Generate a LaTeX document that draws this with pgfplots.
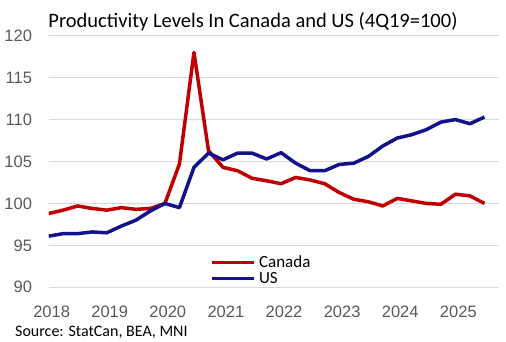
\documentclass[border=0pt]{standalone}
\usepackage{fontspec}
\setmainfont{Carlito}
\newfontfamily\tickfont{Liberation Sans}
\usepackage{pgfplots}
\pgfplotsset{compat=1.18}
\definecolor{canred}{HTML}{C00000}
\definecolor{usblue}{HTML}{12128C}
\definecolor{gridgray}{HTML}{D9D9D9}
\definecolor{ticklab}{HTML}{595959}
\begin{document}
\begin{tikzpicture}[x=1bp,y=1bp]
\useasboundingbox (0,0) rectangle (506,341);
\begin{axis}[
  at={(48.7bp,53.7bp)}, anchor=south west,
  scale only axis, width=450.3bp, height=251.6bp,
  xmin=0, xmax=31, ymin=90, ymax=120,
  axis line style={draw=none},
  major tick length=0pt,
  ytick={90,95,...,120},
  xtick={0.2,4.2,8.2,12.2,16.2,20.2,24.2,28.2},
  xticklabels={2018,2019,2020,2021,2022,2023,2024,2025},
  ymajorgrids, grid style={gridgray, line width=1.5bp},
  /pgf/number format/assume math mode=true,
  ticklabel style={font=\fontsize{16.5bp}{18bp}\selectfont\tickfont, text=ticklab, inner sep=0pt},
  yticklabel style={anchor=east, xshift=-16.5bp},
  xticklabel style={anchor=north, yshift=-18.7bp},
  legend style={draw=none, fill=none, at={(rel axis cs:0.359,0.068)}, anchor=west,
    font=\fontsize{17bp}{18bp}\selectfont, inner sep=0pt, row sep=3bp,
    nodes={inner sep=0pt}},
  legend cell align=left,
  legend image code/.code={\draw[#1, line width=3.5bp] (0bp,0bp) -- (42bp,0bp);},
  /tikz/every odd column/.append style={column sep=3bp},
]
\addplot[canred, line width=3.5bp, line join=round] coordinates {
(0,98.8) (1,99.2) (2,99.7) (3,99.4) (4,99.2) (5,99.5) (6,99.3) (7,99.4)
(8,100.0) (9,104.7) (10,118.0) (11,106.3) (12,104.3) (13,103.9) (14,103.0)
(15,102.7) (16,102.35) (17,103.1) (18,102.8) (19,102.35) (20,101.3) (21,100.5)
(22,100.2) (23,99.7) (24,100.6) (25,100.3) (26,100.0) (27,99.9) (28,101.1)
(29,100.9) (30,100.0)};
\addlegendentry{Canada}
\addplot[usblue, line width=3.5bp, line join=round] coordinates {
(0,96.1) (1,96.4) (2,96.4) (3,96.6) (4,96.5) (5,97.3) (6,98.0) (7,99.1)
(8,100.0) (9,99.5) (10,104.3) (11,106.0) (12,105.2) (13,106.0) (14,106.0)
(15,105.3) (16,106.05) (17,104.8) (18,103.9) (19,103.9) (20,104.65) (21,104.8)
(22,105.6) (23,106.85) (24,107.8) (25,108.2) (26,108.8) (27,109.7) (28,110.0)
(29,109.5) (30,110.3)};
\addlegendentry{US}
\end{axis}
\node[anchor=base, font=\fontsize{20.5bp}{22bp}\selectfont] at (253,314) {Productivity Levels In Canada and US (4Q19=100)};
\node[anchor=base west, inner sep=0pt, font=\fontsize{16bp}{17bp}\selectfont] at (15,5) {Source: StatCan, BEA, MNI};
\end{tikzpicture}
\end{document}
